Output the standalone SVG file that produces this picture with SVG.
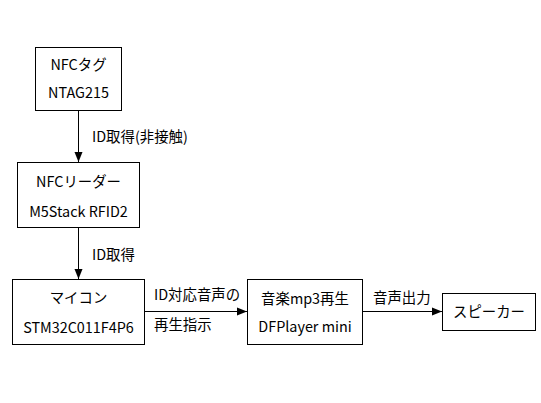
<svg xmlns="http://www.w3.org/2000/svg" width="541" height="403" viewBox="0 0 541 403">
<defs>
<marker id="arr" viewBox="0 0 10 10" refX="10" refY="5" markerWidth="10" markerHeight="10" markerUnits="userSpaceOnUse" orient="auto">
<path d="M0,1 L10,5 L0,9 Z" fill="#000"/>
</marker>
<style>
.box{fill:#fff;stroke:#000;stroke-width:1}
.t{font-family:"Noto Sans CJK JP","Noto Sans",sans-serif;font-size:14.4px;fill:#000}
.c{text-anchor:middle}
.ln{stroke:#000;stroke-width:1;fill:none;marker-end:url(#arr)}
</style>
</defs>
<rect width="541" height="403" fill="#fff"/>
<g id="connectors">
<line class="ln" x1="78.5" y1="111" x2="78.5" y2="162"/>
<line class="ln" x1="78.5" y1="228" x2="78.5" y2="279"/>
<line class="ln" x1="145" y1="311.5" x2="247" y2="311.5"/>
<line class="ln" x1="363" y1="311.5" x2="442" y2="311.5"/>
<text class="t" x="92" y="142">ID取得(非接触)</text>
<text class="t" x="92" y="260">ID取得</text>
<text class="t" x="154" y="300">ID対応音声の</text>
<text class="t" x="154" y="330">再生指示</text>
<text class="t" x="373" y="303">音声出力</text>
</g>
<g id="nfc-tag">
<rect class="box" x="35.5" y="47.5" width="86" height="63"/>
<text class="t c" x="78.5" y="70">NFCタグ</text>
<text class="t c" x="78.5" y="98">NTAG215</text>
</g>
<g id="nfc-reader">
<rect class="box" x="17.5" y="162.5" width="122" height="65"/>
<text class="t c" x="78.5" y="187">NFCリーダー</text>
<text class="t c" x="78.5" y="217">M5Stack RFID2</text>
</g>
<g id="mcu">
<rect class="box" x="12.5" y="279.5" width="132" height="65"/>
<text class="t c" x="78.5" y="303">マイコン</text>
<text class="t c" x="78.5" y="333">STM32C011F4P6</text>
</g>
<g id="dfplayer">
<rect class="box" x="247.5" y="279.5" width="115" height="65"/>
<text class="t c" x="305" y="304">音楽mp3再生</text>
<text class="t c" x="305" y="332">DFPlayer mini</text>
</g>
<g id="speaker">
<rect class="box" x="442.5" y="293.5" width="93" height="37"/>
<text class="t c" x="489" y="317">スピーカー</text>
</g>
</svg>
